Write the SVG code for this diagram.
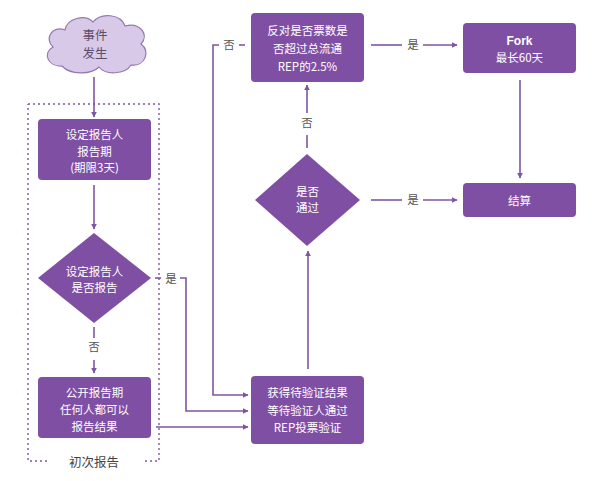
<svg xmlns="http://www.w3.org/2000/svg" width="596" height="481" viewBox="0 0 596 481">
<style>
.box{fill:#7f4fa4;}
.t{font-family:"Noto Sans CJK SC","Liberation Sans",sans-serif;font-size:11.5px;fill:#ffffff;text-anchor:middle;}
.lbl{font-family:"Noto Sans CJK SC","Liberation Sans",sans-serif;font-size:11.5px;fill:#555555;text-anchor:middle;}
.c{stroke:#7f55a3;stroke-width:1.6;fill:none;}
.ca{stroke:#7f55a3;stroke-width:1.6;fill:none;marker-end:url(#ah);}
</style>
<defs>
<marker id="ah" viewBox="0 0 10 10" refX="9" refY="5" markerWidth="6" markerHeight="6" markerUnits="userSpaceOnUse" orient="auto">
<path d="M0,0 L10,5 L0,10 Z" fill="#7f55a3"/>
</marker>
</defs>
<rect width="596" height="481" fill="#ffffff"/>
<g id="group-initial">
<path d="M28,104 H159 V461 H145 M47,461 H28 V104" fill="none" stroke="#7f55a3" stroke-width="1.4" stroke-dasharray="2,3"/>
<text class="lbl" x="94" y="467" style="font-size:12.5px;fill:#444">初次报告</text>
</g>
<g id="cloud">
<path d="M62,66 C48,67 42,53 53,47 C44,39 52,25 65,30 C67,18 85,14 93,22 C101,12 121,14 125,26 C139,22 150,34 141,44 C151,51 145,67 131,65 C125,75 105,75 99,67 C91,75 70,75 62,66 Z" fill="#d9c9e8" stroke="#9478b0" stroke-width="1.2"/>
<text class="t" x="95" y="39.5" style="fill:#5b4d6b;font-size:12.5px">事件</text>
<text class="t" x="95" y="57.8" style="fill:#5b4d6b;font-size:12.5px">发生</text>
</g>
<g id="n1">
<rect class="box" x="38" y="119" width="113" height="61" rx="4"/>
<text class="t" x="94.5" y="138.7">设定报告人</text>
<text class="t" x="94.5" y="155.5">报告期</text>
<text class="t" x="94.5" y="172.3">(期限3天)</text>
</g>
<g id="d1">
<path class="box" d="M94,233 L151,278 L94,323 L38,278 Z"/>
<text class="t" x="94.5" y="275.6">设定报告人</text>
<text class="t" x="94.5" y="292.4">是否报告</text>
</g>
<g id="n2">
<rect class="box" x="38" y="377" width="113" height="61" rx="4"/>
<text class="t" x="94.5" y="397">公开报告期</text>
<text class="t" x="94.5" y="413.8">任何人都可以</text>
<text class="t" x="94.5" y="430.6">报告结果</text>
</g>
<g id="n3">
<rect class="box" x="251" y="376" width="113" height="68" rx="4"/>
<text class="t" x="307.5" y="397">获得待验证结果</text>
<text class="t" x="307.5" y="414.5">等待验证人通过</text>
<text class="t" x="307.5" y="432">REP投票验证</text>
</g>
<g id="d2">
<path class="box" d="M307,154 L360,200 L307,246 L255,200 Z"/>
<text class="t" x="307.5" y="195.6">是否</text>
<text class="t" x="307.5" y="212.4">通过</text>
</g>
<g id="n4">
<rect class="box" x="251" y="13" width="113" height="69" rx="4"/>
<text class="t" x="307.5" y="35">反对是否票数是</text>
<text class="t" x="307.5" y="53">否超过总流通</text>
<text class="t" x="307.5" y="71">REP的2.5%</text>
</g>
<g id="n5">
<rect class="box" x="463" y="23" width="113" height="50" rx="4"/>
<text class="t" x="519.5" y="45" style="font-family:'Liberation Sans',sans-serif;font-weight:bold;font-size:12px">Fork</text>
<text class="t" x="519.5" y="61.5">最长60天</text>
</g>
<g id="n6">
<rect class="box" x="463" y="183" width="113" height="34" rx="4"/>
<text class="t" x="519.5" y="204.5">结算</text>
</g>
<g id="connectors">
<path class="ca" d="M94,77 V117"/>
<path class="ca" d="M94,185 V229"/>
<path class="c" d="M94,327 V338"/>
<text class="lbl" x="94" y="351">否</text>
<path class="ca" d="M94,360 V373"/>
<path class="c" d="M155,278 H161"/>
<text class="lbl" x="171" y="283">是</text>
<path class="ca" d="M180,278 H186 V411 H248"/>
<path class="ca" d="M156,427 H248"/>
<path class="c" d="M245,45 H239"/>
<text class="lbl" x="229" y="49">否</text>
<path class="ca" d="M219,45 H213 V395 H248"/>
<path class="ca" d="M308,369 V251"/>
<path class="c" d="M307,148 V135"/>
<text class="lbl" x="307" y="127">否</text>
<path class="ca" d="M307,113 V85"/>
<path class="c" d="M371,45 H402"/>
<text class="lbl" x="413" y="49">是</text>
<path class="ca" d="M423,45 H457"/>
<path class="c" d="M371,200 H402"/>
<text class="lbl" x="413" y="204">是</text>
<path class="ca" d="M423,200 H457"/>
<path class="ca" d="M520,80 V178"/>
</g>
</svg>
